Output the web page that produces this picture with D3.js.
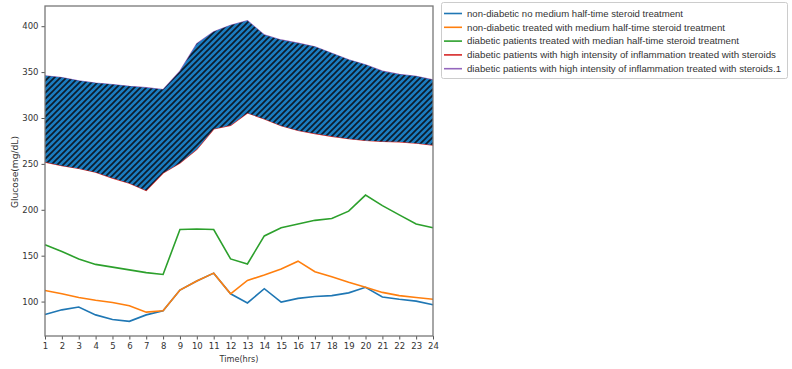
<!DOCTYPE html>
<html>
<head>
<meta charset="utf-8">
<script src="https://cdn.jsdelivr.net/npm/d3@7"></script>
<style>
  body { margin: 0; background: #fff; }
  text { font-family: "DejaVu Sans", sans-serif; fill: #333; }
</style>
</head>
<body>
<div id="chart"></div>
<script>
// hours on the x axis
const hours = d3.range(1, 25);

// series values (mg/dL)
const nonDiabeticNoTreatment = [86, 91, 94, 85.5, 80.5, 78.5, 85.5, 90, 112.5, 122.5, 131, 108.5,
  98.5, 114, 99.5, 103.5, 105.5, 106.5, 109.5, 115.5, 105, 102.5, 100.5, 96.5];
const nonDiabeticMedium = [112, 108.5, 104.5, 101.5, 99, 95.5, 88.5, 90, 112.5, 122.5, 131, 108.5,
  123, 129, 135.5, 144, 132.5, 127, 121, 115.5, 110, 106.5, 104.5, 102.5];
const diabeticMedian = [162, 154.5, 146.5, 140.5, 137.5, 134.5, 131.5, 129.5, 178.5, 179, 178.5, 146.5,
  141, 171.5, 180.5, 184.5, 188.5, 190.5, 198.5, 216, 204.5, 194.5, 184.5, 180.5];
const diabeticHighLower = [252, 248, 245, 241, 234.5, 229, 221, 240, 251, 266, 288, 292,
  305.5, 299, 291.5, 286.5, 283, 280, 277.5, 275.5, 274.5, 274, 272.5, 270.5];
const diabeticHighUpper = [346, 344, 340.5, 338, 336.5, 334.5, 333, 331, 351, 381, 394, 401,
  406, 390.5, 385, 381.5, 377.5, 370.5, 363.5, 358, 351, 347.5, 345.5, 341.5];

const yTicks = [100, 150, 200, 250, 300, 350, 400];

const seriesNames = [
  "non-diabetic no medium half-time steroid treatment",
  "non-diabetic treated with medium half-time steroid treatment",
  "diabetic patients treated with median half-time steroid treatment",
  "diabetic patients with high intensity of inflammation treated with steroids",
  "diabetic patients with high intensity of inflammation treated with steroids.1"
];
const seriesColors = ["#1f77b4", "#ff7f0e", "#2ca02c", "#d62728", "#9467bd"];
const seriesValues = [nonDiabeticNoTreatment, nonDiabeticMedium, diabeticMedian, diabeticHighLower, diabeticHighUpper];
// measured widths of the legend texts in the reference
const legendWidths = [216, 258, 272, 309, 314];

const width = 792;
const height = 369;
const margin = { left: 45, right: 359, top: 6, bottom: 33 };

const svg = d3.select("#chart")
  .append("svg")
  .attr("width", width)
  .attr("height", height);

const x = d3.scaleLinear()
  .domain([1, 24])
  .range([margin.left, width - margin.right]);

const y = d3.scaleLinear()
  .domain([62.5, 422])
  .range([height - margin.bottom, margin.top]);

// hatch pattern for the filled band
const defs = svg.append("defs");
const pat = defs.append("pattern")
  .attr("id", "hatch")
  .attr("patternUnits", "userSpaceOnUse")
  .attr("width", 6)
  .attr("height", 6);
pat.append("rect").attr("width", 6).attr("height", 6).attr("fill", "#1a7cc0");
pat.append("path")
  .attr("d", "M0,6 L6,0 M-1.5,1.5 L1.5,-1.5 M4.5,7.5 L7.5,4.5")
  .attr("stroke", "#0c1c2c")
  .attr("stroke-width", 1.7);

const line = d3.line()
  .x((d, i) => x(hours[i]))
  .y(d => y(d));

// lines
seriesValues.forEach((vals, k) => {
  svg.append("path")
    .datum(vals)
    .attr("fill", "none")
    .attr("stroke", seriesColors[k])
    .attr("stroke-width", k >= 3 ? 1.2 : 1.6)
    .attr("d", line);
});

// band between the two high-inflammation series
const area = d3.area()
  .x((d, i) => x(hours[i]))
  .y0((d, i) => y(diabeticHighLower[i]))
  .y1(d => y(d));

svg.append("path")
  .datum(diabeticHighUpper)
  .attr("fill", "url(#hatch)")
  .attr("d", area);

// axes
const xAxis = svg.append("g")
  .attr("transform", `translate(0,${height - margin.bottom})`)
  .call(d3.axisBottom(x).tickValues(hours).tickSize(3.5).tickPadding(3.5));

const yAxis = svg.append("g")
  .attr("transform", `translate(${margin.left},0)`)
  .call(d3.axisLeft(y).tickValues(yTicks).tickSize(3.5).tickPadding(3));

[xAxis, yAxis].forEach(g => {
  g.select(".domain").remove();
  g.selectAll(".tick line").attr("stroke", "#555");
  g.selectAll(".tick text")
    .style("font-size", "8.5px")
    .style("font-family", "DejaVu Sans, sans-serif")
    .attr("fill", "#333");
});

// frame
svg.append("rect")
  .attr("x", margin.left)
  .attr("y", margin.top)
  .attr("width", width - margin.right - margin.left)
  .attr("height", height - margin.bottom - margin.top)
  .attr("fill", "none")
  .attr("stroke", "#777")
  .attr("stroke-width", 1.3);

// axis labels
svg.append("text")
  .attr("x", (margin.left + width - margin.right) / 2)
  .attr("y", 362)
  .attr("text-anchor", "middle")
  .attr("textLength", 39)
  .attr("lengthAdjust", "spacingAndGlyphs")
  .style("font-size", "9px")
  .text("Time(hrs)");

svg.append("text")
  .attr("transform", "translate(18,172) rotate(-90)")
  .attr("text-anchor", "middle")
  .attr("textLength", 72)
  .attr("lengthAdjust", "spacingAndGlyphs")
  .style("font-size", "9px")
  .text("Glucose(mg/dL)");

// legend
const legend = svg.append("g");
legend.append("rect")
  .attr("x", 441.5)
  .attr("y", 2.5)
  .attr("width", 346)
  .attr("height", 76)
  .attr("rx", 2)
  .attr("fill", "#fff")
  .attr("stroke", "#ccc");

seriesNames.forEach((name, k) => {
  const ly = 13.5 + k * 13.8;
  legend.append("line")
    .attr("x1", 444).attr("x2", 462)
    .attr("y1", ly).attr("y2", ly)
    .attr("stroke", seriesColors[k])
    .attr("stroke-width", 1.6);
  legend.append("text")
    .attr("x", 467)
    .attr("y", ly + 3.2)
    .attr("textLength", legendWidths[k])
    .attr("lengthAdjust", "spacingAndGlyphs")
    .style("font-family", "'Liberation Sans', Arial, sans-serif")
    .style("font-size", "8.2px")
    .text(name);
});
</script>
</body>
</html>
